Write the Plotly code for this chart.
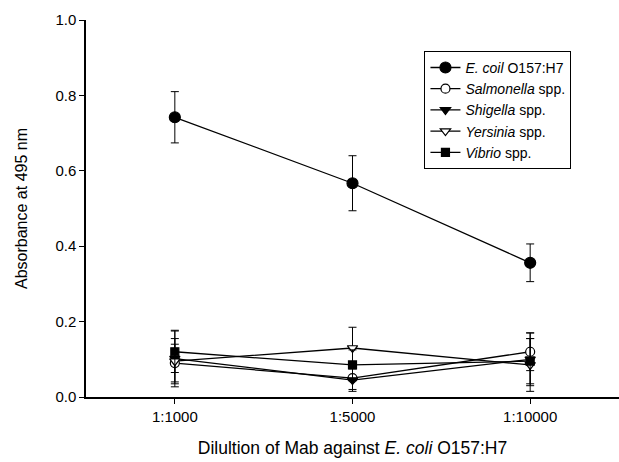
import plotly.graph_objects as go

dilutions = ["1:1000", "1:5000", "1:10000"]

ecoli = [0.742, 0.567, 0.356]
ecoli_err = [0.068, 0.073, 0.050]

salmonella = [0.090, 0.050, 0.120]
salmonella_err = [0.050, 0.030, 0.050]

shigella = [0.102, 0.045, 0.100]
shigella_err = [0.075, 0.030, 0.070]

yersinia = [0.095, 0.130, 0.085]
yersinia_err = [0.060, 0.055, 0.070]

vibrio = [0.120, 0.085, 0.095]
vibrio_err = [0.055, 0.040, 0.060]

series = [
    ("<i>E. coil</i> O157:H7", ecoli, ecoli_err, "circle", "black", 11),
    ("<i>Salmonella</i> spp.", salmonella, salmonella_err, "circle", "white", 9),
    ("<i>Shigella</i> spp.", shigella, shigella_err, "triangle-down", "black", 9),
    ("<i>Yersinia</i> spp.", yersinia, yersinia_err, "triangle-down", "white", 9),
    ("<i>Vibrio</i> spp.", vibrio, vibrio_err, "square", "black", 8),
]

fig = go.Figure()
for name, vals, errs, sym, fill, size in series:
    fig.add_trace(go.Scatter(
        x=dilutions, y=vals, name=name, mode="lines+markers",
        line=dict(color="black", width=1.3),
        marker=dict(symbol=sym, size=size, color=fill,
                    line=dict(color="black", width=1.2)),
        error_y=dict(type="data", array=errs, visible=True, color="black",
                     thickness=1, width=4),
    ))

font_family = "Liberation Sans, Arial, sans-serif"
fig.update_layout(
    width=619, height=462,
    margin=dict(l=86, r=0, t=20, b=65),
    paper_bgcolor="white", plot_bgcolor="white",
    font=dict(family=font_family, size=15, color="black"),
    showlegend=True,
    legend=dict(x=0.635, y=0.918, xanchor="left", yanchor="top",
                bordercolor="black", borderwidth=1, bgcolor="white",
                font=dict(size=14), tracegroupgap=0, itemsizing="trace"),
    xaxis=dict(
        type="category", range=[-0.5, 2.5],
        showline=True, linecolor="black", linewidth=1.5, mirror=False,
        ticks="outside", ticklen=5, tickcolor="black", tickwidth=1,
        showgrid=False, zeroline=False,
        tickfont=dict(size=15),
        title=dict(text="Dilultion of Mab against <i>E. coli</i> O157:H7",
                   font=dict(size=17.5), standoff=18),
    ),
    yaxis=dict(
        range=[0, 1], dtick=0.2, tick0=0, tickformat=".1f",
        showline=True, linecolor="black", linewidth=1.5,
        ticks="outside", ticklen=5, tickcolor="black", tickwidth=1,
        showgrid=False, zeroline=False,
        tickfont=dict(size=15),
        title=dict(text="Absorbance at 495 nm", font=dict(size=16), standoff=24),
    ),
)

fig.write_html("out.html")
